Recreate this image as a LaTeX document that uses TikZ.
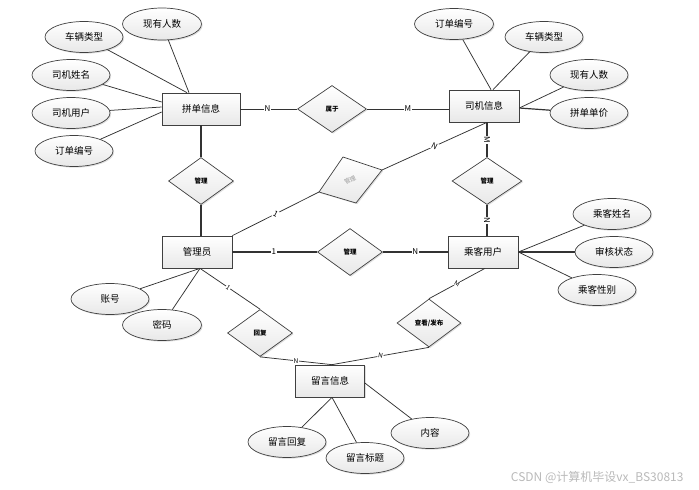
\documentclass[tikz,border=0pt]{standalone}
\usepackage{fontspec}
\setmainfont{Noto Sans CJK SC}
\usetikzlibrary{shapes.geometric,shadows}
\begin{document}
\begin{tikzpicture}[x=1pt,y=-1pt,
  lc/.style={draw=gray!50!black, line width=0.7pt},
  shd/.style={top color=white, bottom color=gray!18, drop shadow={opacity=0.25, shadow xshift=1.2pt, shadow yshift=-1.2pt}},
  ent/.style={rectangle, lc, shd, minimum width=70pt, minimum height=32pt, inner sep=0pt, font=\fontsize{9.5}{10}\selectfont},
  attr/.style={ellipse, lc, shd, minimum width=78pt, minimum height=31pt, inner sep=0pt, font=\fontsize{9.5}{10}\selectfont},
  rel/.style={diamond, lc, shd, minimum width=65pt, minimum height=47pt, inner sep=0pt, font=\bfseries\fontsize{6.5}{7}\selectfont},
  con/.style={draw=gray!40!black, line width=0.75pt},
  lab/.style={fill=white, inner sep=0.6pt, font=\fontsize{8}{8}\selectfont}
]
\useasboundingbox (0,0) rectangle (699,490);

% entities
\node[ent, minimum width=78pt] (pd) at (201,109) {拼单信息};
\node[ent] (sj) at (484,106) {司机信息};
\node[ent] (gly) at (197,252) {管理员};
\node[ent] (ck) at (483,252) {乘客用户};
\node[ent, minimum width=69pt] (ly) at (330,381) {留言信息};

% relations
\node[rel, minimum width=69pt] (shuyu) at (332,109) {属于};
\node[rel] (gl1) at (201,181) {管理};
\node[rel] (gl2) at (350,252) {管理};
\node[rel, minimum width=70pt] (gl3) at (487,181) {管理};
\node[rel] (hf) at (260,333) {回复};
\node[rel, minimum width=64pt, minimum height=48pt] (fb) at (429,323) {查看/发布};

% skewed diamond
\coordinate (rt) at (343,157);
\coordinate (rr) at (382,170);
\coordinate (rb) at (356,203);
\coordinate (rl) at (319,192);
\path[lc, shd] (rt) -- (rr) -- (rb) -- (rl) -- cycle;
\node[rotate=28, inner sep=0pt, text=gray!80, font=\fontsize{6}{6}\selectfont] (rtext) at (350,180) {管理};

% attributes of pd
\node[attr, minimum width=79pt, minimum height=32pt] (a1) at (162,24) {现有人数};
\node[attr] (a2) at (84,37) {车辆类型};
\node[attr] (a3) at (71,75) {司机姓名};
\node[attr] (a4) at (71,113) {司机用户};
\node[attr] (a5) at (74,151) {订单编号};
% attributes of sj
\node[attr, minimum width=79pt] (b1) at (454,24) {订单编号};
\node[attr] (b2) at (544,37) {车辆类型};
\node[attr] (b3) at (589,75) {现有人数};
\node[attr] (b4) at (589,113) {拼单单价};
% attributes of ck
\node[attr] (c1) at (612,214) {乘客姓名};
\node[attr] (c2) at (614,252) {审核状态};
\node[attr] (c3) at (597,290) {乘客性别};
% attributes of gly
\node[attr] (d1) at (110,299) {账号};
\node[attr, minimum width=79pt] (d2) at (162,325) {密码};
% attributes of ly
\node[attr] (e1) at (287,442) {留言回复};
\node[attr] (e2) at (365,458) {留言标题};
\node[attr] (e3) at (430,433) {内容};

% attribute lines
\draw[con] (a1) -- ([xshift=-12pt]pd.north);
\draw[con] (a2) -- ([xshift=-14pt]pd.north);
\draw[con] (a3) -- ([yshift=7pt]pd.west);
\draw[con] (a4) -- ([yshift=2pt]pd.west);
\draw[con] (a5) -- ([yshift=-3pt]pd.west);
\draw[con] (b1) -- ([xshift=7pt]sj.north);
\draw[con] (b2) -- ([xshift=9pt]sj.north);
\draw[con] (b3) -- ([yshift=-2pt]sj.east);
\draw[con, line width=1.2pt] (b4) -- ([yshift=-2pt]sj.east);
\draw[con] (c1) -- (ck.east);
\draw[con, line width=1.3pt] (c2) -- (ck.east);
\draw[con] (c3) -- (ck.east);
\draw[con] (d1) -- ([xshift=3pt]gly.south);
\draw[con] (d2) -- ([xshift=3pt]gly.south);
\draw[con] (e1) -- ([xshift=2pt]ly.south);
\draw[con] (e2) -- ([xshift=2pt]ly.south);
\draw[con] (e3) -- ([yshift=-2pt]ly.east);

% relationship lines
\draw[con, line width=1pt] (pd.east) -- (shuyu.west) node[lab, pos=0.48] {N};
\draw[con, line width=1pt] (shuyu.east) -- (shuyu.east -| sj.west) node[lab, pos=0.5] {M};
\draw[con, line width=1.1pt] (gl1.north |- pd.south) -- (gl1.north);
\draw[con, line width=1.1pt] (gl1.south) -- (gl1.south |- gly.north);
\draw[con, line width=1.1pt] (gly.east) -- (gl2.west) node[lab, pos=0.49] {1};
\draw[con, line width=1.1pt] (gl2.east) -- (ck.west) node[lab, pos=0.5] {N};
\draw[con, line width=1.1pt] (gl3.north |- sj.south) -- (gl3.north) node[lab, pos=0.5, rotate=-90] {M};
\draw[con, line width=1.1pt] (gl3.south) -- (gl3.south |- ck.north) node[lab, pos=0.5, rotate=-90] {N};
\draw[con] (gly.north east) -- (rl) node[lab, pos=0.5, rotate=-27] {1};
\draw[con] (rr) -- ([xshift=3pt]sj.south) node[lab, pos=0.5, rotate=-27] {N};
\draw[con] ([xshift=3pt]gly.south) -- (hf.north) node[lab, pos=0.47, rotate=-35, font=\fontsize{6.5}{7}\selectfont] {1};
\draw[con] (hf.south) -- ([xshift=2pt]ly.north) node[lab, pos=0.5, font=\fontsize{6.5}{7}\selectfont] {N};
\draw[con] ([xshift=2pt]ck.south) -- (fb.north) node[lab, pos=0.5, rotate=-30, font=\fontsize{6.5}{7}\selectfont] {M};
\draw[con] (fb.south) -- ([xshift=2pt]ly.north) node[lab, pos=0.5, rotate=-10, font=\fontsize{6.5}{7}\selectfont] {N};

% watermark
\node[text=gray!55, font=\fontsize{12}{13}\selectfont, anchor=east] (wm) at (687,477) {CSDN @计算机毕设vx\_BS30813};
\end{tikzpicture}
\end{document}
